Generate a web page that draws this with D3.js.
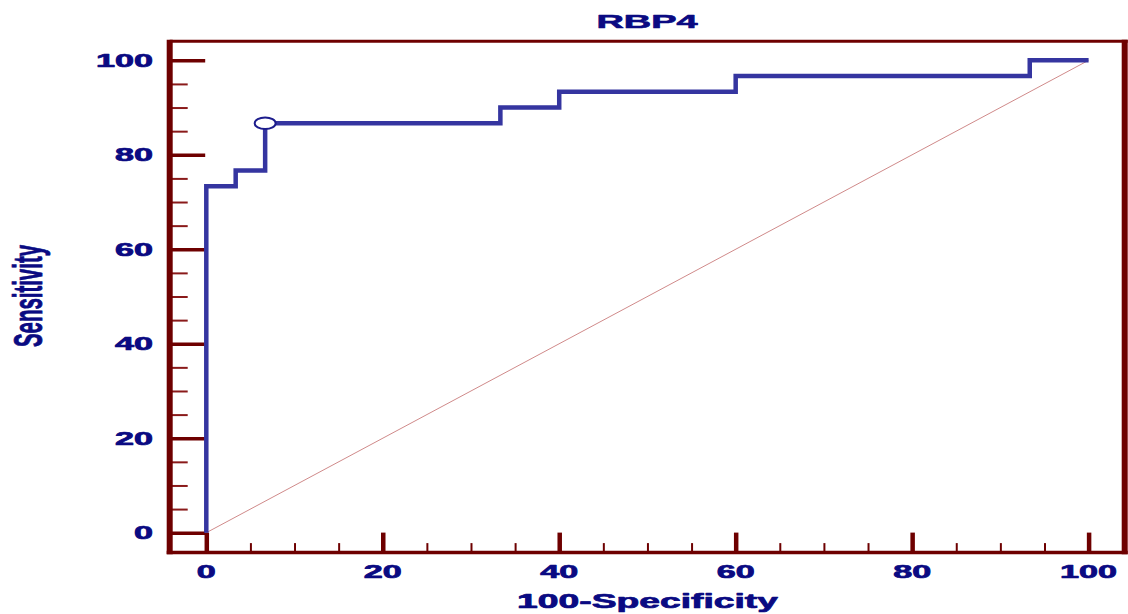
<!DOCTYPE html>
<html><head><meta charset="utf-8">
<script src="https://cdn.jsdelivr.net/npm/d3@7"></script>
<style>html,body{margin:0;padding:0;background:#fff;}svg{display:block;}</style>
</head><body>
<script>
// Data
const title = "RBP4";
const xLabel = "100-Specificity";
const yLabel = "Sensitivity";
const fpr = [0, 0, 3.33, 6.67, 33.33, 40, 60, 93.33, 100];          // 100-Specificity
const tpr = [0, 73.33, 76.67, 86.67, 90, 93.33, 96.67, 100, 100];   // Sensitivity
const criterionFpr = [6.67];
const criterionTpr = [86.67];
const majorTicks = [0, 20, 40, 60, 80, 100];
const minorTicks = [5,10,15,25,30,35,45,50,55,65,70,75,85,90,95];

const W = 1128, H = 614;
const maroon = "#6e0000", navy = "#0a0a82", rocColor = "#3535a0";
const svg = d3.select("body").append("svg").attr("width", W).attr("height", H);

const x = d3.scaleLinear().domain([0, 100]).range([206.3, 1088.6]);
const y = d3.scaleLinear().domain([0, 100]).range([532.7, 60.3]);
const frame = {l: 169.7, r: 1124.7, t: 41.3, b: 552.6};
const font = "'Liberation Sans', Arial, sans-serif";

// diagonal
svg.append("line")
  .attr("x1", x(0)).attr("y1", y(0)).attr("x2", x(100)).attr("y2", y(100))
  .attr("stroke", "#d08a8a").attr("stroke-width", 1);

// y axis ticks (inward)
const yMinor = svg.append("g").attr("transform", `translate(${frame.l},0)`)
  .call(d3.axisLeft(y).tickValues(minorTicks).tickSize(-18).tickFormat(""));
yMinor.select(".domain").remove();
yMinor.selectAll("line").attr("stroke", "#8a1a1a").attr("stroke-width", 2);
const yMajor = svg.append("g").attr("transform", `translate(${frame.l},0)`)
  .call(d3.axisLeft(y).tickValues(majorTicks).tickSize(-35.5).tickFormat(""));
yMajor.select(".domain").remove();
yMajor.selectAll("line").attr("stroke", maroon).attr("stroke-width", 3.5);

// x axis ticks (inward)
const xMinor = svg.append("g").attr("transform", `translate(0,${frame.b})`)
  .call(d3.axisBottom(x).tickValues(minorTicks).tickSize(-9.5).tickFormat(""));
xMinor.select(".domain").remove();
xMinor.selectAll("line").attr("stroke", maroon).attr("stroke-width", 2);
const xMajor = svg.append("g").attr("transform", `translate(0,${frame.b})`)
  .call(d3.axisBottom(x).tickValues(majorTicks).tickSize(-20).tickFormat(""));
xMajor.select(".domain").remove();
xMajor.selectAll("line").attr("stroke", maroon).attr("stroke-width", 4.5);

// frame
svg.append("line").attr("x1", frame.l).attr("x2", frame.r + 3).attr("y1", frame.t).attr("y2", frame.t).attr("stroke", maroon).attr("stroke-width", 3);
svg.append("line").attr("x1", frame.l - 3).attr("x2", frame.r + 3).attr("y1", frame.b).attr("y2", frame.b).attr("stroke", maroon).attr("stroke-width", 3.5);
svg.append("line").attr("x1", frame.l).attr("x2", frame.l).attr("y1", frame.t - 1.5).attr("y2", frame.b + 1.7).attr("stroke", maroon).attr("stroke-width", 6);
svg.append("line").attr("x1", frame.r).attr("x2", frame.r).attr("y1", frame.t - 1.5).attr("y2", frame.b + 1.7).attr("stroke", maroon).attr("stroke-width", 6);

// ROC curve
const pts = fpr.map((d, i) => [d, tpr[i]]);
svg.append("path")
  .attr("d", d3.line().x(d => x(d[0])).y(d => y(d[1])).curve(d3.curveStepAfter)(pts))
  .attr("fill", "none").attr("stroke", rocColor).attr("stroke-width", 4.5)
  .attr("stroke-linejoin", "miter").attr("stroke-linecap", "butt");

// criterion marker
svg.selectAll("ellipse.crit").data(criterionFpr).enter().append("ellipse")
  .attr("cx", (d) => x(d)).attr("cy", (d, i) => y(criterionTpr[i]))
  .attr("rx", 10.5).attr("ry", 5.8)
  .attr("fill", "#fff").attr("stroke", "#1c1c8c").attr("stroke-width", 2);

function boldText(sel, sw) {
  return sel.attr("font-family", font).attr("font-weight", "bold")
    .attr("fill", navy).attr("stroke", navy).attr("stroke-width", sw)
    .attr("stroke-linejoin", "round");
}

// tick labels
boldText(svg.selectAll("text.ylab").data(majorTicks).enter().append("text")
  .attr("transform", d => `translate(153,${y(d) + 6.5}) scale(1.9,1)`)
  .attr("text-anchor", "end").attr("font-size", 18), 0.7).text(d => d);
boldText(svg.selectAll("text.xlab").data(majorTicks).enter().append("text")
  .attr("transform", d => `translate(${x(d)},577.5) scale(1.9,1)`)
  .attr("text-anchor", "middle").attr("font-size", 18), 0.7).text(d => d);

// title
boldText(svg.append("text").attr("transform", "translate(647,28.3) scale(2.05,1)")
  .attr("text-anchor", "middle").attr("font-size", 18.5), 0.6).text(title);
// x label
boldText(svg.append("text").attr("transform", "translate(647.5,608) scale(1.91,1)")
  .attr("text-anchor", "middle").attr("font-size", 19.5), 0.7).text(xLabel);
// y label
boldText(svg.append("text").attr("transform", "translate(42,296) rotate(-90) scale(0.51,1)")
  .attr("text-anchor", "middle").attr("font-size", 40), 0.8).text(yLabel);
</script>
</body></html>
